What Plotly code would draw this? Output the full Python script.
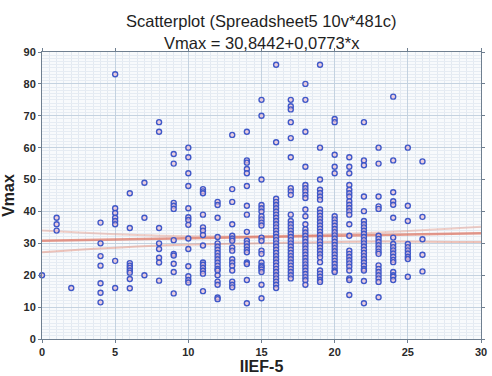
import plotly.graph_objects as go

# ---- data ----
iief_cols = [0, 1, 2, 4, 5, 6, 7, 8, 9, 10, 11, 12, 13, 14, 15, 16, 17, 18, 19, 20, 21, 22, 23, 24, 25, 26]
vmax_cols = [
    [20],
    [38, 36, 34],
    [16],
    [36.5, 30, 26, 23, 17.5, 14.5, 11.5],
    [83, 41, 39.5, 38, 37, 36, 24.5, 16],
    [45.7, 34.8, 23.8, 23, 22.3, 21.5, 20.8, 18.8, 15.9],
    [49, 38, 20],
    [68, 65, 34.8, 30, 28.2, 25.5, 24, 18.3],
    [58, 55, 42.7, 41.8, 40.8, 31, 26.7, 26.2, 23.6, 21, 14.3],
    [60, 57, 52, 48, 41, 38.2, 37.3, 35.8, 31.5, 28.2, 22.8, 19.7, 18.5, 17.7],
    [47, 46.3, 45.7, 39, 35, 34, 32.6, 29.3, 24, 23.3, 22.3, 21.4, 20.5, 15],
    [43, 42, 38, 32, 30, 29, 28, 27, 26, 25, 24, 23, 22, 21.5, 20, 18, 17, 13, 12.5],
    [64, 47, 43, 36, 32.4, 31.5, 30.8, 28.7, 27.7, 25, 24, 23, 21.5, 18, 17, 16.2],
    [65, 56, 55.3, 53.3, 52, 48, 41.8, 39, 33.6, 30.8, 30, 29, 28, 27.2, 24, 23.5, 18.5, 11.2],
    [75, 70, 50, 42, 41, 40, 38.5, 37.5, 36.5, 35.6, 31.8, 30.8, 27.7, 26.7, 24, 23, 22.5, 21.8, 21, 17, 12.8],
    [86, 61.7, 44, 43, 42, 41, 40, 39, 38, 37, 36, 35, 34, 33, 32, 31, 30, 29, 28, 27, 26, 25, 24, 23, 22, 21, 20, 19, 18, 17, 16],
    [75, 73, 72, 68, 63, 57, 47.3, 46.3, 45.2, 39, 37, 36, 35, 34, 33, 32, 31, 30, 29, 28, 27, 26, 25, 24, 23, 22, 21, 20, 19],
    [80, 75, 65, 54, 48.3, 47.3, 46.3, 45.2, 44.2, 40.6, 38.5, 36, 34.4, 33.4, 32.4, 31.4, 30.4, 29.4, 28.4, 27.4, 26.4, 25.4, 24.4, 23.4, 22.4, 21.4, 20.4, 19.4, 18.4, 17],
    [86, 60, 50, 46.8, 45.8, 44.7, 43.7, 40.6, 39.6, 38.6, 37.6, 36.6, 35.6, 34.6, 33.6, 32.6, 31.6, 30.6, 29.6, 28.6, 27.6, 26.6, 25.6, 24.1, 21.5, 20.5, 19.5, 18.5, 17.9],
    [69, 68, 57.8, 54, 52, 38.5, 37.5, 36.5, 35.5, 34.5, 33.5, 32.5, 31.5, 30.5, 29.5, 28.5, 27.5, 26.5, 25.5, 24.5, 23.5, 22.5, 21.5, 21],
    [57, 54, 52, 48.3, 46.8, 45.7, 44.7, 43.2, 42.1, 41.1, 40.1, 39, 36, 32.4, 27.7, 26.7, 25.7, 24.7, 23.7, 22.7, 21.5, 19, 18.5, 13.8],
    [68, 56, 54.5, 44.7, 40.1, 37, 36, 35, 34, 33, 32, 31, 30, 29, 28, 27, 26, 25, 24, 23, 22, 21.5, 18.2, 11.2],
    [60, 55, 44.7, 41.6, 40.8, 32.4, 31.4, 30.4, 29.4, 28.4, 27.4, 26.7, 23.1, 22, 21, 20, 19, 17.9, 13.1],
    [76, 56, 46, 43.2, 42.1, 38, 31.8, 29.8, 28.8, 27.8, 26.8, 25.8, 24.8, 24.1, 21, 20, 19.5, 18.5],
    [60, 41.8, 37, 29.8, 28.8, 27.8, 26.8, 25.8, 25.1, 19.5],
    [55.7, 38.3, 31.3, 26.4, 21.2],
]

reg_intercept = 30.8442
reg_slope = 0.0773
band_x = [0, 8, 16, 23, 30]
band_lower = [27.2, 29.3, 30.1, 30.6, 30.4]
band_upper = [34.0, 32.4, 32.3, 33.4, 35.2]

x_ticks = [0, 5, 10, 15, 20, 25, 30]
y_ticks = [0, 10, 20, 30, 40, 50, 60, 70, 80, 90]

title_line1 = "Scatterplot (Spreadsheet5 10v*481c)"
title_line2 = "Vmax = 30,8442+0,0773*x"

xs, ys = [], []
for xv, col in zip(iief_cols, vmax_cols):
    for v in col:
        xs.append(xv)
        ys.append(v)

fig = go.Figure()

fig.add_trace(go.Scatter(x=band_x, y=band_lower, mode="lines", line=dict(color="rgba(225,140,120,0.5)", width=2, shape="spline"), hoverinfo="skip"))
fig.add_trace(go.Scatter(x=band_x, y=band_upper, mode="lines", line=dict(color="rgba(225,140,120,0.4)", width=2, shape="spline"), hoverinfo="skip"))
fig.add_trace(go.Scatter(x=[0, 30], y=[reg_intercept, reg_intercept + reg_slope * 30], mode="lines",
                         line=dict(color="rgba(220,110,90,0.7)", width=2.5), hoverinfo="skip"))

fig.add_trace(go.Scatter(
    x=xs, y=ys, mode="markers",
    marker=dict(symbol="circle", size=5, color="rgba(235,190,210,0.7)",
                line=dict(color="#3f58c8", width=1.4)),
    cliponaxis=False,
))

fam = "Liberation Sans, Arial, sans-serif"
axis_font = dict(family=fam, size=11, color="#2a2a2a")
fig.update_layout(
    width=492, height=376,
    margin=dict(l=42, r=5, t=52, b=33),
    paper_bgcolor="white",
    plot_bgcolor="#f8fafc",
    showlegend=False,
    annotations=[
        dict(text=title_line1, x=0.5, xref="paper", y=1.109, yref="paper", xanchor="center", yanchor="middle",
             showarrow=False, font=dict(family=fam, size=16.5, color="#1e1e1e")),
        dict(text=title_line2, x=0.5, xref="paper", y=1.031, yref="paper", xanchor="center", yanchor="middle",
             showarrow=False, font=dict(family=fam, size=16.5, color="#1e1e1e")),
    ],
    xaxis=dict(
        range=[0, 30], tickvals=x_ticks, ticktext=["<b>%d</b>" % t for t in x_ticks],
        showgrid=True, gridcolor="#c4d2e0", gridwidth=1,
        minor=dict(dtick=0.5, showgrid=True, gridcolor="#e3e9f1", ticks=""),
        showline=True, linecolor="#6f7f90", mirror="ticks", ticks="outside", ticklen=3, tickcolor="#6f7f90",
        zeroline=False, tickfont=axis_font,
        title=dict(text="<b>IIEF-5</b>", font=dict(family=fam, size=16, color="#222"), standoff=2),
    ),
    yaxis=dict(
        range=[0, 90], tickvals=y_ticks, ticktext=["<b>%d</b>" % t for t in y_ticks],
        showgrid=True, gridcolor="#c4d2e0", gridwidth=1,
        minor=dict(dtick=1, showgrid=True, gridcolor="#e6ecf3", ticks=""),
        showline=True, linecolor="#6f7f90", mirror="ticks", ticks="outside", ticklen=3, tickcolor="#6f7f90",
        zeroline=False, tickfont=axis_font,
        title=dict(text="<b>Vmax</b>", font=dict(family=fam, size=16, color="#222"), standoff=4),
    ),
)

fig.write_html("out.html")
